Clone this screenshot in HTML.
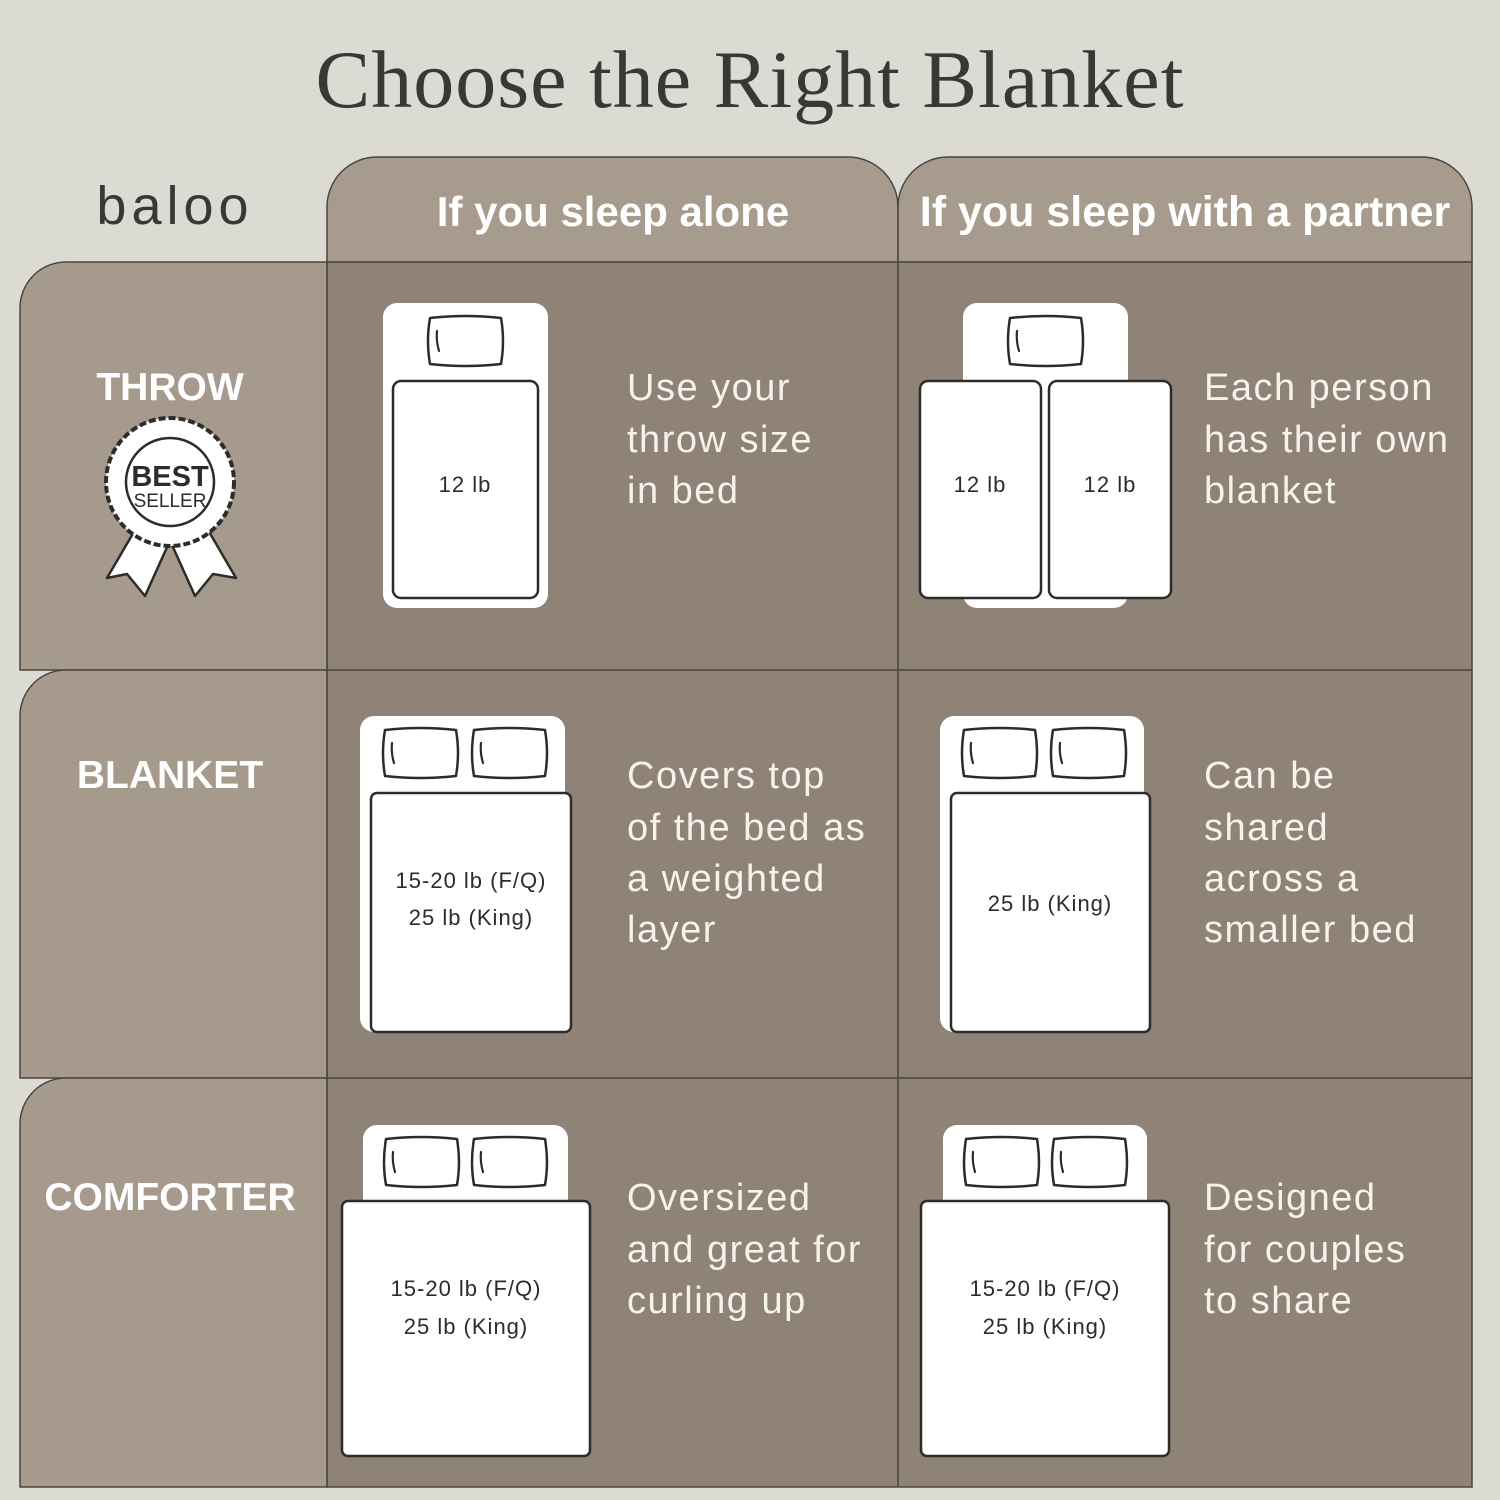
<!DOCTYPE html>
<html><head><meta charset="utf-8"><style>html,body{margin:0;padding:0;background:#dcdbd3}svg{display:block}</style></head><body>
<svg width="1500" height="1500" viewBox="0 0 1500 1500" xmlns="http://www.w3.org/2000/svg">
<defs>
<g id="pl"><path d="M3,3 Q38.5,-1 74,3 Q78,26 74,49 Q38.5,53 3,49 Q-1,26 3,3 Z" fill="#fff" stroke="#2e2c2a" stroke-width="2.5" stroke-linejoin="round"/><path d="M10,16 Q9,26 12,36" fill="none" stroke="#2e2c2a" stroke-width="2.2" stroke-linecap="round"/></g>
</defs>
<rect width="1500" height="1500" fill="#dcdbd3"/>
<text x="750" y="107" text-anchor="middle" font-family="Liberation Serif, serif" font-size="82" letter-spacing="1" fill="#3a3835">Choose the Right Blanket</text>
<text x="175" y="224" text-anchor="middle" font-family="Liberation Sans, sans-serif" font-size="54" fill="#3a3835" letter-spacing="5">baloo</text>
<path d="M327,262 V207 A50,50 0 0 1 377,157 H848 A50,50 0 0 1 898,207 V262 Z" fill="#a69b8d" stroke="#4a4540" stroke-width="1.5"/>
<path d="M898,262 V207 A50,50 0 0 1 948,157 H1422 A50,50 0 0 1 1472,207 V262 Z" fill="#a69b8d" stroke="#4a4540" stroke-width="1.5"/>
<rect x="327" y="262" width="1145" height="1225" fill="#8f8276" stroke="#4a4540" stroke-width="1.5"/>
<path d="M327,262 H66 A46,46 0 0 0 20,308 V670 H327 Z" fill="#a69a8c" stroke="#4a4540" stroke-width="1.5"/>
<path d="M327,670 H66 A46,46 0 0 0 20,716 V1078 H327 Z" fill="#a69a8c" stroke="#4a4540" stroke-width="1.5"/>
<path d="M327,1078 H66 A46,46 0 0 0 20,1124 V1487 H327 Z" fill="#a69a8c" stroke="#4a4540" stroke-width="1.5"/>
<line x1="898" y1="262" x2="898" y2="1487" stroke="#4a4540" stroke-width="1.5"/>
<line x1="327" y1="670" x2="1472" y2="670" stroke="#4a4540" stroke-width="1.5"/>
<line x1="327" y1="1078" x2="1472" y2="1078" stroke="#4a4540" stroke-width="1.5"/>
<g font-family="Liberation Sans, sans-serif" font-weight="bold" fill="#fff" font-size="42" text-anchor="middle">
<text x="613" y="226">If you sleep alone</text>
<text x="1185" y="226" font-size="43">If you sleep with a partner</text>
<text x="170" y="400" font-size="39">THROW</text>
<text x="170" y="788" font-size="39">BLANKET</text>
<text x="170" y="1210" font-size="39">COMFORTER</text>
</g>
<g stroke="#2e2c2a" stroke-width="2.5" fill="#fff" stroke-linejoin="round">
<polygon points="135,530 107,578 127,574 145,596 168,545"/>
<polygon points="172,545 195,596 213,574 236,578 208,530"/>
<circle cx="170" cy="482" r="64" stroke-width="4" stroke-dasharray="7 3"/>
<circle cx="170" cy="482" r="44" stroke-width="2.5"/>
</g>
<text x="170" y="486" text-anchor="middle" font-family="Liberation Sans, sans-serif" font-weight="bold" font-size="29" fill="#2e2c2a">BEST</text>
<text x="170" y="507" text-anchor="middle" font-family="Liberation Sans, sans-serif" font-size="19" fill="#2e2c2a">SELLER</text>
<g fill="#fff">
<rect x="383" y="303" width="165" height="305" rx="14"/>
<rect x="963" y="303" width="165" height="305" rx="14"/>
<rect x="360" y="716" width="205" height="316" rx="14"/>
<rect x="940" y="716" width="204" height="316" rx="14"/>
<rect x="363" y="1125" width="205" height="100" rx="14"/>
<rect x="943" y="1125" width="204" height="100" rx="14"/>
</g>
<use href="#pl" x="427" y="315"/><use href="#pl" x="1007" y="315"/>
<use href="#pl" x="382" y="727"/><use href="#pl" x="471" y="727"/>
<use href="#pl" x="961" y="727"/><use href="#pl" x="1050" y="727"/>
<use href="#pl" x="383" y="1136"/><use href="#pl" x="471" y="1136"/>
<use href="#pl" x="963" y="1136"/><use href="#pl" x="1051" y="1136"/>
<g fill="#fff" stroke="#2e2c2a" stroke-width="2.5">
<rect x="393" y="381" width="145" height="217" rx="8"/>
<rect x="920" y="381" width="121" height="217" rx="8"/>
<rect x="1049" y="381" width="122" height="217" rx="8"/>
<rect x="371" y="793" width="200" height="239" rx="6"/>
<rect x="951" y="793" width="199" height="239" rx="6"/>
<rect x="342" y="1201" width="248" height="255" rx="6"/>
<rect x="921" y="1201" width="248" height="255" rx="6"/>
</g>
<g font-family="Liberation Sans, sans-serif" font-size="22" fill="#2e2c2a" text-anchor="middle" letter-spacing="1">
<text x="465" y="492">12 lb</text>
<text x="980" y="492">12 lb</text>
<text x="1110" y="492">12 lb</text>
<text x="471" y="888">15-20 lb (F/Q)</text>
<text x="471" y="925">25 lb (King)</text>
<text x="1050" y="911">25 lb (King)</text>
<text x="466" y="1296">15-20 lb (F/Q)</text>
<text x="466" y="1334">25 lb (King)</text>
<text x="1045" y="1296">15-20 lb (F/Q)</text>
<text x="1045" y="1334">25 lb (King)</text>
</g>
<g font-family="Liberation Sans, sans-serif" font-size="38" fill="#f6f2ec" letter-spacing="1.5">
<text x="627" y="400">Use your</text><text x="627" y="452">throw size</text><text x="627" y="503">in bed</text>
<text x="1204" y="400">Each person</text><text x="1204" y="452">has their own</text><text x="1204" y="503">blanket</text>
<text x="627" y="788">Covers top</text><text x="627" y="840">of the bed as</text><text x="627" y="891">a weighted</text><text x="627" y="942">layer</text>
<text x="1204" y="788">Can be</text><text x="1204" y="840">shared</text><text x="1204" y="891">across a</text><text x="1204" y="942">smaller bed</text>
<text x="627" y="1210">Oversized</text><text x="627" y="1262">and great for</text><text x="627" y="1313">curling up</text>
<text x="1204" y="1210">Designed</text><text x="1204" y="1262">for couples</text><text x="1204" y="1313">to share</text>
</g>
</svg>
</body></html>
